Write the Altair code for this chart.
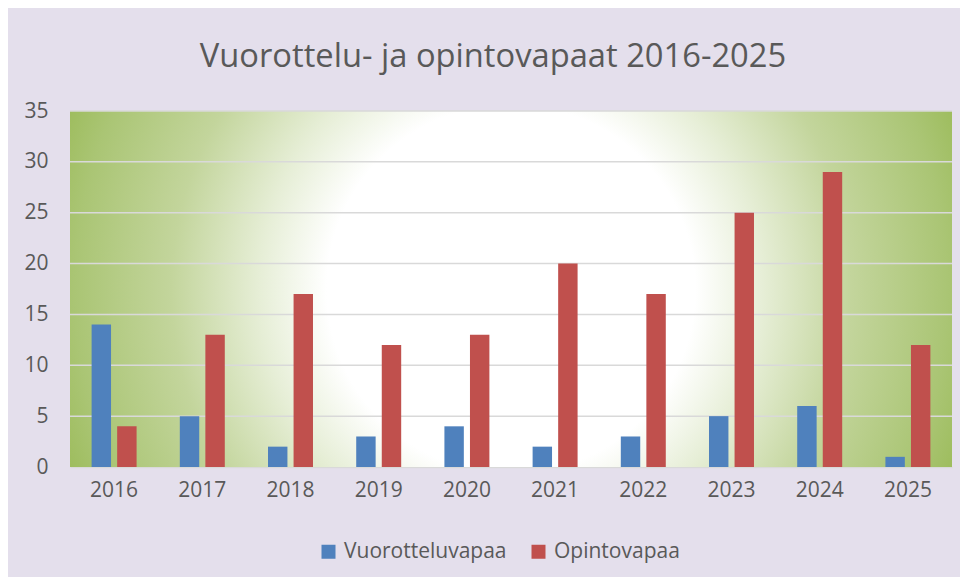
import altair as alt
import pandas as pd

years = ["2016", "2017", "2018", "2019", "2020", "2021", "2022", "2023", "2024", "2025"]
vuorottelu = [14, 5, 2, 3, 4, 2, 3, 5, 6, 1]
opinto = [4, 13, 17, 12, 13, 20, 17, 25, 29, 12]
series = ["Vuorotteluvapaa", "Opintovapaa"]
colors = ["#4F81BD", "#C0504D"]
tick_values = [0, 5, 10, 15, 20, 25, 30, 35]
grid_values = [5, 10, 15, 20, 25, 30, 35]

rows = []
for i, y in enumerate(years):
    rows.append({"year": y, "series": series[0], "value": vuorottelu[i]})
    rows.append({"year": y, "series": series[1], "value": opinto[i]})
df = pd.DataFrame(rows)

FONT = "Open Sans"
TXT = "#595959"

gradient = {
    "gradient": "radial",
    "x1": 0.5, "y1": 0.5, "r1": 0,
    "x2": 0.5, "y2": 0.5, "r2": 0.55,
    "stops": [
        {"offset": 0.0, "color": "#FFFFFF"},
        {"offset": 0.38, "color": "#FFFFFF"},
        {"offset": 0.52, "color": "#E6EED6"},
        {"offset": 0.70, "color": "#C3D59C"},
        {"offset": 0.90, "color": "#AAC574"},
        {"offset": 1.0, "color": "#9BBB59"},
    ],
}

y_axis = alt.Axis(values=tick_values, labelFont=FONT, labelFontSize=21, labelColor=TXT,
                  ticks=False, domain=False, grid=False, labelPadding=22)
y_scale = alt.Scale(domain=[0, 35], nice=False)

bg = alt.Chart(alt.Data(values=[{}])).mark_rect(fill=gradient, strokeWidth=0).encode(
    x=alt.value(0), x2=alt.value("width"), y=alt.value(0), y2=alt.value("height")
)

grid = alt.Chart(pd.DataFrame({"g": grid_values})).mark_rule(
    color="#D9D9D9", strokeWidth=1.5
).encode(
    y=alt.Y("g:Q", scale=y_scale, axis=y_axis, title=None),
    x=alt.value(0), x2=alt.value("width"),
)

bars = alt.Chart(df).mark_bar(strokeWidth=0).encode(
    x=alt.X("year:N", sort=years, title=None,
            scale=alt.Scale(paddingInner=0.49, paddingOuter=0.245),
            axis=alt.Axis(labelAngle=0, labelFont=FONT, labelFontSize=21, labelColor=TXT,
                          ticks=False, domain=True, domainColor="#D9D9D9", domainWidth=1.5,
                          labelPadding=12, grid=False)),
    xOffset=alt.XOffset("series:N", sort=series,
                        scale=alt.Scale(paddingInner=0.24, paddingOuter=0)),
    y=alt.Y("value:Q", title=None, scale=y_scale, axis=y_axis),
    color=alt.Color("series:N", sort=series,
                    scale=alt.Scale(domain=series, range=colors),
                    legend=alt.Legend(title=None, orient="none", direction="horizontal",
                                      legendX=248, legendY=430, symbolType="square",
                                      symbolSize=196, symbolStrokeWidth=0,
                                      labelFont=FONT, labelFontSize=21, labelColor=TXT,
                                      labelOffset=5, columnPadding=21, labelLimit=400)),
)

chart = alt.layer(bg, grid, bars).properties(
    width=882,
    height=356,
    background="#E4DFEC",
    padding={"left": 62, "top": 103, "right": 8, "bottom": 110},
    autosize=alt.AutoSizeParams(type="none"),
    title=alt.Title("Vuorottelu- ja opintovapaat 2016-2025", font=FONT, fontSize=32.7,
                    fontWeight="normal", color=TXT, anchor="middle", offset=26, dx=-18),
).configure_view(stroke=None)

chart.save("out.html", embed_options={"renderer": "svg", "actions": False})
